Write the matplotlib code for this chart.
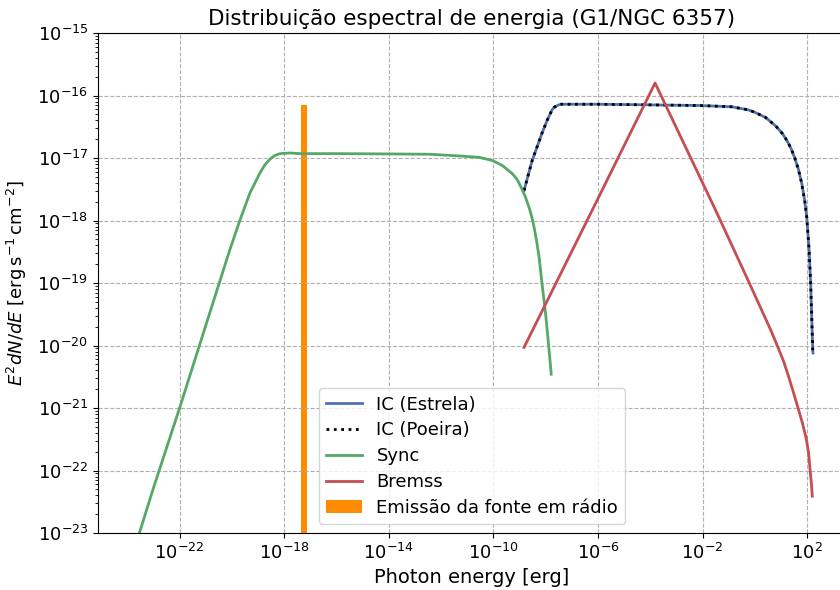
import numpy as np
import matplotlib
matplotlib.use("Agg")
import matplotlib.pyplot as plt

# ---- data (log10 values) ----
sync_logE = [-23.65, -23.0, -22.0, -21.0, -20.08, -19.69, -19.31, -18.93, -18.74, -18.55, -18.36,
             -18.16, -17.78, -17.40, -16.0, -14.0, -12.44, -11.19, -10.54, -10.04, -9.66, -9.28,
             -9.10, -8.94, -8.78, -8.63, -8.53, -8.44, -8.35, -8.25, -8.14, -8.06, -7.99, -7.93,
             -7.87, -7.79]
sync_logF = [-23.15, -22.28, -21.0, -19.68, -18.47, -17.99, -17.56, -17.24, -17.11, -17.02, -16.96,
             -16.93, -16.92, -16.93, -16.93, -16.935, -16.94, -16.97, -16.99, -17.04, -17.12, -17.25,
             -17.34, -17.47, -17.62, -17.80, -17.95, -18.12, -18.33, -18.60, -19.02, -19.30, -19.56,
             -19.82, -20.09, -20.46]

ic_logE = [-8.83, -8.52, -8.14, -7.95, -7.76, -7.68, -7.60, -7.50, -7.41, -6.0, -4.0, -2.15,
           -0.90, -0.25, 0.0, 0.40, 0.80, 1.05, 1.25, 1.40, 1.53, 1.66, 1.79, 1.90, 1.98, 2.07,
           2.13, 2.17, 2.21, 2.22]
ic_star_logF = [-17.52, -17.04, -16.60, -16.40, -16.23, -16.19, -16.17, -16.15, -16.14, -16.14,
                -16.15, -16.16, -16.18, -16.23, -16.27, -16.35, -16.49, -16.61, -16.74, -16.87,
                -17.01, -17.18, -17.41, -17.68, -17.95, -18.48, -19.02, -19.56, -20.09, -20.12]
ic_dust_logF = list(ic_star_logF)

brem_logE = [-8.83, -6.3, -3.82, -1.50, -0.25, 0.60, 0.90, 1.10, 1.28, 1.47, 1.66, 1.82, 1.96,
             2.05, 2.12, 2.16, 2.19]
brem_logF = [-20.03, -17.90, -15.80, -17.84, -18.97, -19.75, -20.05, -20.26, -20.49, -20.75,
             -21.02, -21.25, -21.49, -21.72, -22.05, -22.22, -22.41]

radio_E = [5.98e-18]
radio_width = [3.2e-18]
radio_F = [7.1e-17]

labels = ["IC (Estrela)", "IC (Poeira)", "Sync", "Bremss", "Emissão da fonte em rádio"]

# ---- plot ----
fig = plt.figure(figsize=(8.4, 5.9), dpi=100)
ax = fig.add_axes([98 / 840, 57 / 590, 748 / 840, 500 / 590])

p = lambda a: 10.0 ** np.asarray(a)

ax.plot(p(ic_logE), p(ic_star_logF), color="#4c72b0", lw=2, label=labels[0])
ax.plot(p(ic_logE), p(ic_dust_logF), color="black", lw=2, ls=":", label=labels[1])
ax.plot(p(sync_logE), p(sync_logF), color="#55a868", lw=2, label=labels[2])
ax.plot(p(brem_logE), p(brem_logF), color="#c44e52", lw=2, label=labels[3])
ax.bar(radio_E, np.array(radio_F) - 1e-30, width=radio_width, bottom=1e-30,
       color="#ff8c00", label=labels[4])

ax.set_xscale("log")
ax.set_yscale("log")
ax.set_xticks([10.0 ** k for k in range(-22, 3, 4)])
ax.set_yticks([10.0 ** k for k in range(-23, -14)])
ax.set_xlim(10 ** -25.12, 10 ** 3.48)
ax.set_ylim(1e-23, 1e-15)
ax.tick_params(labelsize=13)
ax.grid(True, which="major", ls="--", color="#b0b0b0", lw=0.8)

ax.set_xlabel("Photon energy [erg]", fontsize=14)
ax.set_ylabel(r"$E^2dN/dE$ [$\mathrm{erg\,s^{-1}\,cm^{-2}}$]", fontsize=13, labelpad=6)
ax.set_title("Distribuição espectral de energia (G1/NGC 6357)", fontsize=15.5)

ax.legend(loc="lower center", fontsize=13, labelspacing=0.43)

fig.savefig("out.png", dpi=100)
